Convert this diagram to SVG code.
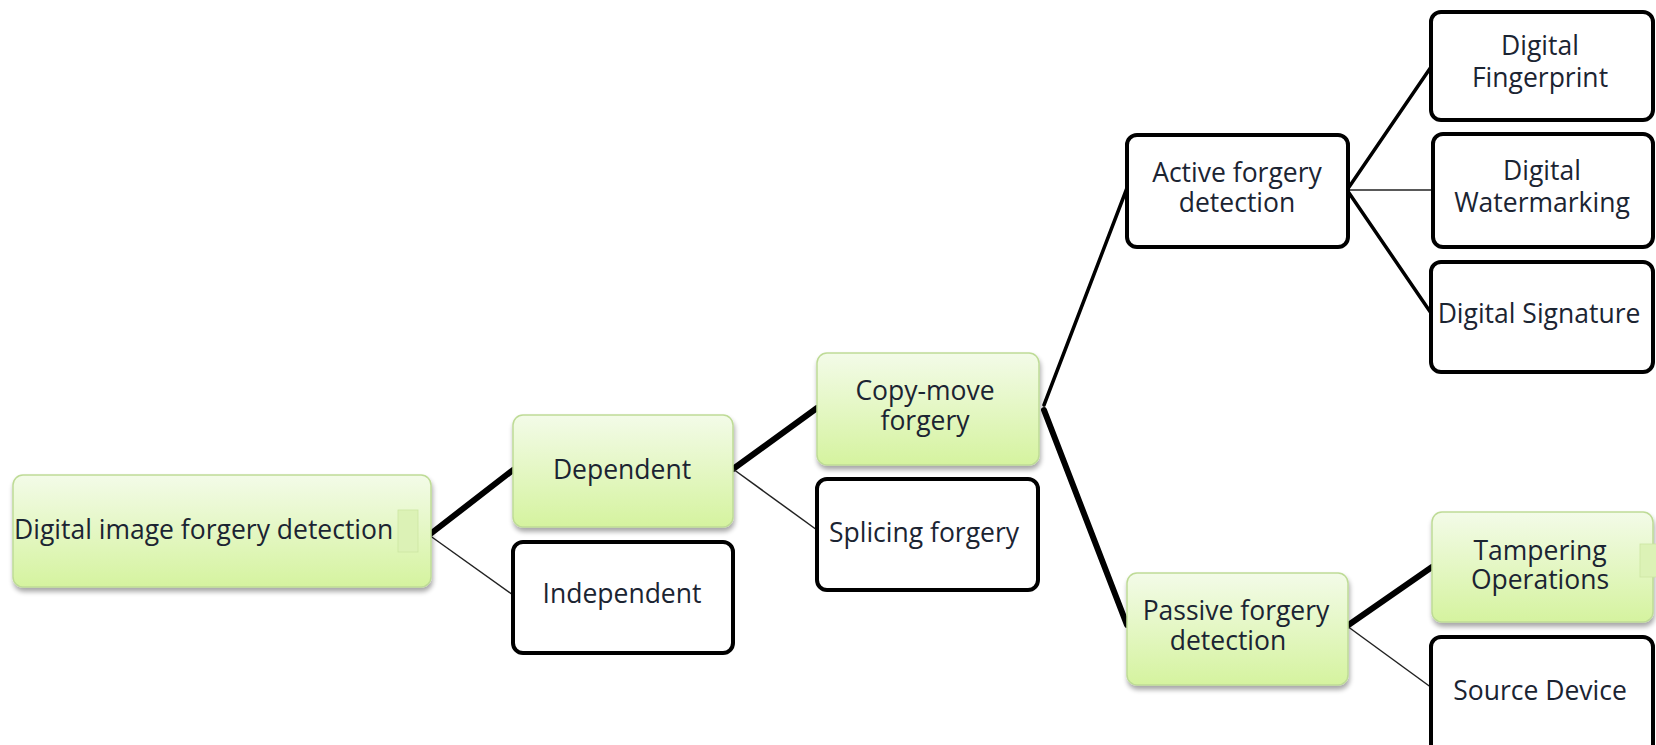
<svg xmlns="http://www.w3.org/2000/svg" width="1656" height="745" viewBox="0 0 1656 745">
  <defs>
    <linearGradient id="greenFill" x1="0" y1="0" x2="0" y2="1">
      <stop offset="0" stop-color="#f3fbe8"/>
      <stop offset="1" stop-color="#d5f39f"/>
    </linearGradient>
    <filter id="dropShadow" x="-10%" y="-10%" width="120%" height="130%">
      <feGaussianBlur in="SourceAlpha" stdDeviation="2.5"/>
      <feOffset dx="1" dy="4" result="blur"/>
      <feComponentTransfer><feFuncA type="linear" slope="0.35"/></feComponentTransfer>
      <feMerge><feMergeNode/><feMergeNode in="SourceGraphic"/></feMerge>
    </filter>
    <style>
      .green { fill: url(#greenFill); stroke: #bedb96; stroke-width: 1.5; filter: url(#dropShadow); }
      .plain { fill: #ffffff; stroke: #000000; stroke-width: 4; }
      .tab { fill: #dcf2b6; stroke: #cce6a2; stroke-width: 0.8; }
      .label { font-family: "Open Sans", "Liberation Sans", sans-serif; font-size: 26.5px; fill: #1b2432; text-anchor: middle; }
      .thick { stroke: #000; stroke-width: 6; stroke-linecap: round; fill: none; }
      .mid { stroke: #000; stroke-width: 3.5; stroke-linecap: round; fill: none; }
      .thin { stroke: #222; stroke-width: 1.5; fill: none; }
    </style>
  </defs>

  <!-- connectors -->
  <g id="connectors">
    <line class="thick" x1="429" y1="535" x2="513" y2="470"/>
    <line class="thin" x1="429" y1="535" x2="513" y2="595"/>
    <line class="thick" x1="733" y1="469" x2="817" y2="408"/>
    <line class="thin" x1="733" y1="469" x2="817" y2="530"/>
    <line class="mid" x1="1044" y1="405" x2="1127" y2="188"/>
    <line class="thick" x1="1044" y1="410" x2="1127" y2="625"/>
    <line class="mid" x1="1347" y1="190" x2="1431" y2="67"/>
    <line class="thin" x1="1347" y1="190" x2="1433" y2="190"/>
    <line class="mid" x1="1347" y1="190" x2="1431" y2="313"/>
    <line class="thick" x1="1347" y1="626" x2="1432" y2="567"/>
    <line class="thin" x1="1347" y1="626" x2="1432" y2="688"/>
  </g>

  <g id="node-root">
    <rect class="green" x="13" y="475" width="418" height="112" rx="10"/>
    <rect class="tab" x="398" y="510" width="20" height="42"/>
    <text class="label" x="14" y="539" style="text-anchor:start">Digital image forgery detection</text>
  </g>

  <g id="node-dependent">
    <rect class="green" x="513" y="415" width="220" height="112" rx="10"/>
    <text class="label" x="622" y="479">Dependent</text>
  </g>

  <g id="node-independent">
    <rect class="plain" x="513" y="542" width="220" height="111" rx="10"/>
    <text class="label" x="622" y="603">Independent</text>
  </g>

  <g id="node-copymove">
    <rect class="green" x="817" y="353" width="222" height="112" rx="10"/>
    <text class="label"><tspan x="925" y="400">Copy-move</tspan><tspan x="925" y="430">forgery</tspan></text>
  </g>

  <g id="node-splicing">
    <rect class="plain" x="817" y="479" width="221" height="111" rx="10"/>
    <text class="label" x="924" y="542">Splicing forgery</text>
  </g>

  <g id="node-active">
    <rect class="plain" x="1127" y="135" width="221" height="112" rx="10"/>
    <text class="label"><tspan x="1237" y="182">Active forgery</tspan><tspan x="1237" y="212">detection</tspan></text>
  </g>

  <g id="node-passive">
    <rect class="green" x="1127" y="573" width="221" height="112" rx="10"/>
    <text class="label"><tspan x="1236" y="620">Passive forgery</tspan><tspan x="1228" y="650">detection</tspan></text>
  </g>

  <g id="node-fingerprint">
    <rect class="plain" x="1431" y="12" width="222" height="108" rx="10"/>
    <text class="label"><tspan x="1540" y="55">Digital</tspan><tspan x="1540" y="87">Fingerprint</tspan></text>
  </g>

  <g id="node-watermarking">
    <rect class="plain" x="1433" y="134" width="220" height="113" rx="10"/>
    <text class="label"><tspan x="1542" y="180">Digital</tspan><tspan x="1542" y="212">Watermarking</tspan></text>
  </g>

  <g id="node-signature">
    <rect class="plain" x="1431" y="262" width="222" height="110" rx="10"/>
    <text class="label" x="1539" y="323">Digital Signature</text>
  </g>

  <g id="node-tampering">
    <rect class="green" x="1432" y="512" width="221" height="110" rx="10"/>
    <rect class="tab" x="1640" y="544" width="20" height="33"/>
    <text class="label"><tspan x="1540" y="560">Tampering</tspan><tspan x="1540" y="589">Operations</tspan></text>
  </g>

  <g id="node-source">
    <rect class="plain" x="1431" y="637" width="222" height="120" rx="10"/>
    <text class="label" x="1540" y="700">Source Device</text>
  </g>
</svg>
